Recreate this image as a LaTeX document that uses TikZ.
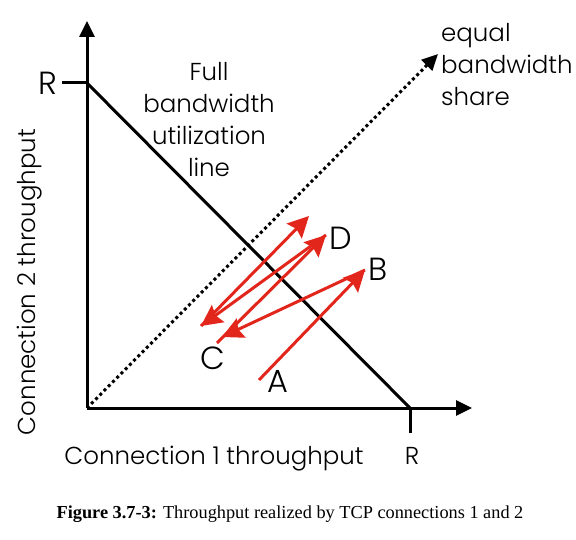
\documentclass[tikz,border=0pt]{standalone}
\usepackage{fontspec}
\setmainfont{Poppins}[UprightFont=* Light]
\newfontfamily\capfont{Liberation Serif}
\usetikzlibrary{arrows.meta}
\definecolor{tcpred}{RGB}{226,38,28}
\tikzset{
  axis/.style={line width=3pt, -{Triangle[length=16pt,width=15pt]}},
  thick line/.style={line width=3pt},
  share/.style={line width=3pt, dash pattern=on 3pt off 3pt, -{Triangle[length=16pt,width=15pt]}},
  jump/.style={tcpred, line width=3pt, -{Stealth[length=21pt,width=21pt,inset=3pt]}},
  lbl/.style={font=\fontsize{24.5}{30}\selectfont, inner sep=0pt},
  pt lbl/.style={font=\fontsize{32}{36}\selectfont, inner sep=0pt}
}
\begin{document}
\begin{tikzpicture}[x=1pt,y=-1pt]
\useasboundingbox (0,0) rectangle (576,540);
\coordinate (O) at (87,408);
\coordinate (Ytop) at (87,21);
\coordinate (Xend) at (472,408);
\coordinate (Ry) at (87,83);
\coordinate (Rx) at (410,408);
\coordinate (Ryt) at (62,83);
\coordinate (Rxt) at (410,433);
\coordinate (Eq) at (438,54);
\draw[axis] (O) -- (Ytop);
\draw[axis] (O) -- (Xend);
\draw[thick line] (Ryt) -- (Ry);
\draw[thick line] (Rx) -- (Rxt);
\draw[thick line] (Ry) -- (Rx);
\draw[share] (O) -- (Eq);
\node[pt lbl] (r2) at (48,83) {R};
\node[lbl] (r1) at (412,456) {R};
\node[lbl] (xl) at (214,459) {Connection 1 throughput};
\node[lbl, rotate=90] (yl) at (30,282) {Connection 2 throughput};
\node[lbl, align=center, font=\fontsize{24.5}{32}\selectfont] (full) at (209,120) {Full\\bandwidth\\utilization\\line};
\node[lbl, align=left, anchor=west, font=\fontsize{24.5}{32}\selectfont] (eqs) at (441,65) {equal\\bandwidth\\share};
\coordinate (a) at (259,380);
\coordinate (b) at (365,270);
\coordinate (c1) at (222,337);
\coordinate (c) at (217,343);
\coordinate (d) at (326,235);
\coordinate (c2) at (201,326);
\coordinate (e) at (309,216);
\draw[jump] (a) -- (b);
\draw[jump] (b) -- (c1);
\draw[jump] (c) -- (d);
\draw[jump] (d) -- (c2);
\draw[jump] (c2) -- (e);
\node[pt lbl] (la) at (278,381) {A};
\node[pt lbl] (lb) at (378,269) {B};
\node[pt lbl] (lc) at (213,358) {C};
\node[pt lbl] (ld) at (341,238) {D};
\node[inner sep=0pt, font=\capfont\fontsize{18.3}{22}\selectfont] (cap) at (290,514) {\textbf{Figure 3.7-3:} Throughput realized by TCP connections 1 and 2};
\end{tikzpicture}
\end{document}
